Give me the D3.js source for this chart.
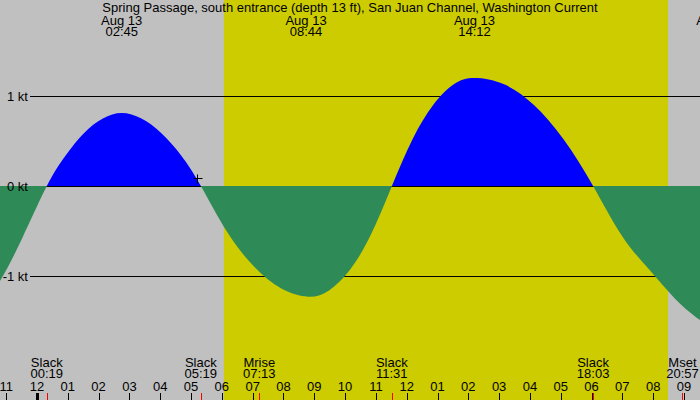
<!DOCTYPE html>
<html>
<head>
<meta charset="utf-8">
<title>Spring Passage current</title>
<script src="https://d3js.org/d3.v7.min.js"></script>
<style>
	body{ margin:0; background:#c0c0c0; }
	text{ font-family:"Liberation Sans", Arial, sans-serif; font-size:13px; fill:#000; }
</style>
</head>
<body>
<div id="chart"></div>
<script>

var title = "Spring Passage, south entrance (depth 13 ft), San Juan Channel, Washington Current";

// current curve: hours after midnight Aug 13, knots (flood +, ebb -)
var hours = [-2.88, -2.08, -1.28, -0.48, 0.32, 0.93, 1.53, 2.14, 2.75, 3.39, 4.03, 4.68, 5.32,
	6.19, 7.06, 7.93, 8.80, 9.48, 10.16, 10.84, 11.52, 12.19, 12.86, 13.53, 14.20,
	15.16, 16.13, 17.09, 18.05, 19.00, 19.90, 20.70, 21.40, 22.07];
var knots = [-1.55, -1.42, -1.10, -0.58, 0, 0.34, 0.59, 0.75, 0.81, 0.75, 0.59, 0.34, 0,
	-0.52, -0.90, -1.14, -1.23, -1.16, -0.93, -0.54, 0, 0.52, 0.90, 1.13, 1.20,
	1.13, 0.90, 0.52, 0, -0.56, -0.94, -1.25, -1.46, -1.62];

// max current labels at the top
var maxDays = ["Aug 13", "Aug 13", "Aug 13", "Aug 13"];
var maxTimes = ["02:45", "08:44", "14:12", "22:04"];

// slack and moon events at the bottom
var eventNames = ["Slack", "Slack", "Mrise", "Slack", "Slack", "Mset"];
var eventTimes = ["00:19", "05:19", "07:13", "11:31", "18:03", "20:57"];

// daylight
var sunrise = "06:04", sunset = "20:29";

// hour axis
var hourTicks = d3.range(-1, 22);
var hourLabels = ["11", "12", "01", "02", "03", "04", "05", "06", "07", "08", "09", "10", "11",
	"12", "01", "02", "03", "04", "05", "06", "07", "08", "09"];

// knot lines
var knotTicks = [1, 0, -1];
var knotLabels = ["1 kt", "0 kt", "-1 kt"];

// the small cross
var markTime = "05:11", markKnots = 0.09;

function toHours(s) {
	var p = s.split(":");
	return +p[0] + p[1] / 60;
}

var width = 700, height = 400;

var svg = d3.select("#chart")
	.append("svg")
		.attr("width", width)
		.attr("height", height);

var x = d3.scaleLinear()
	.domain([-1.2, 21.52])
	.range([0, width]);

var y = d3.scaleLinear()
	.domain([-1, 1])
	.range([276, 96]);

// night background + daylight band
svg.append("rect")
	.attr("width", width).attr("height", height)
	.attr("fill", "#c0c0c0");
svg.append("rect")
	.attr("x", x(toHours(sunrise)))
	.attr("width", x(toHours(sunset)) - x(toHours(sunrise)))
	.attr("height", height)
	.attr("fill", "#cccc00");

// knot lines (under the fills)
svg.selectAll(".kline")
	.data(knotTicks)
	.enter().append("line")
		.attr("x1", 30).attr("x2", width)
		.attr("y1", function(d) { return y(d) + 0.5; })
		.attr("y2", function(d) { return y(d) + 0.5; })
		.attr("stroke", "#000");

// current fills, blue above zero, green below
var pts = hours.map(function(h, i) { return [h, knots[i]]; });

var area = d3.area()
	.x(function(d) { return x(d[0]); })
	.y0(y(0))
	.y1(function(d) { return y(d[1]); })
	.curve(d3.curveNatural);

var defs = svg.append("defs");
defs.append("clipPath").attr("id", "above")
	.append("rect").attr("width", width).attr("height", y(0));
defs.append("clipPath").attr("id", "below")
	.append("rect").attr("y", y(0)).attr("width", width).attr("height", height - y(0));

svg.append("path")
	.datum(pts)
	.attr("clip-path", "url(#above)")
	.attr("fill", "#0000ff")
	.attr("d", area);

svg.append("path")
	.datum(pts)
	.attr("clip-path", "url(#below)")
	.attr("fill", "#2e8b57")
	.attr("d", area);

// knot labels sit on top of the fills
svg.selectAll(".klabel")
	.data(knotTicks)
	.enter().append("text")
		.attr("x", 28)
		.attr("y", function(d) { return y(d) + 4.5; })
		.attr("text-anchor", "end")
		.text(function(d, i) { return knotLabels[i]; });

// cross marker
var mx = Math.round(x(toHours(markTime))) + 0.5, my = Math.round(y(markKnots)) + 0.5;
svg.append("path")
	.attr("d", "M" + (mx - 4) + "," + my + "H" + (mx + 5) + "M" + mx + "," + (my - 4) + "V" + (my + 5))
	.attr("stroke", "#000");

// title and max current labels
svg.append("text")
	.attr("x", width / 2).attr("y", 12)
	.attr("text-anchor", "middle")
	.text(title);

var maxG = svg.selectAll(".max")
	.data(maxTimes)
	.enter().append("g")
		.attr("transform", function(d) { return "translate(" + x(toHours(d)) + ",0)"; });
maxG.append("text")
	.attr("y", 24.5).attr("text-anchor", "middle")
	.text(function(d, i) { return maxDays[i]; });
maxG.append("text")
	.attr("y", 36).attr("text-anchor", "middle")
	.text(function(d) { return d; });

// event labels
var evG = svg.selectAll(".ev")
	.data(eventTimes)
	.enter().append("g")
		.attr("transform", function(d) { return "translate(" + x(toHours(d)) + ",0)"; });
evG.append("text")
	.attr("y", 366.5).attr("text-anchor", "middle")
	.text(function(d, i) { return eventNames[i]; });
evG.append("text")
	.attr("y", 378).attr("text-anchor", "middle")
	.text(function(d) { return d; });

// hour axis
svg.selectAll(".hlabel")
	.data(hourTicks)
	.enter().append("text")
		.attr("x", function(d) { return x(d); })
		.attr("y", 391)
		.attr("text-anchor", "middle")
		.text(function(d, i) { return hourLabels[i]; });

svg.selectAll(".htick")
	.data(hourTicks)
	.enter().append("line")
		.attr("x1", function(d) { return Math.round(x(d)) + 0.5; })
		.attr("x2", function(d) { return Math.round(x(d)) + 0.5; })
		.attr("y1", 393).attr("y2", height)
		.attr("stroke", "#000")
		.attr("stroke-width", function(d) { return d % 24 == 0 ? 3 : 1; });

svg.selectAll(".etick")
	.data(eventTimes)
	.enter().append("line")
		.attr("x1", function(d) { return Math.round(x(toHours(d))) + 0.5; })
		.attr("x2", function(d) { return Math.round(x(toHours(d))) + 0.5; })
		.attr("y1", 393).attr("y2", height)
		.attr("stroke", "#ff0000");

</script>
</body>
</html>
